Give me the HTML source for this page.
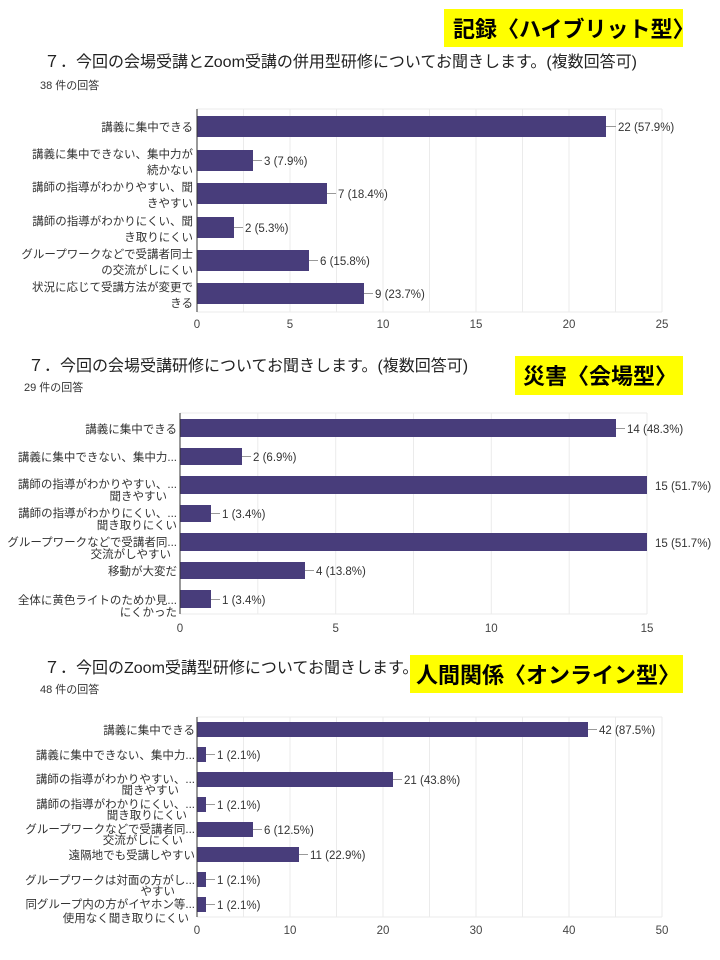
<!DOCTYPE html>
<html><head><meta charset="utf-8"><style>
html,body{margin:0;padding:0;background:#fff;}
svg{display:block;}
text{font-family:"Liberation Sans","Noto Sans CJK JP",sans-serif;}
.t{font-size:16px;fill:#222;}
.s{font-size:11px;fill:#333;}
.l{font-size:11.5px;fill:#333;text-anchor:end;}
.v{font-size:11.5px;fill:#333;}
.a{font-size:11.5px;fill:#444;text-anchor:middle;}
.y{font-size:22px;font-weight:bold;fill:#000;}
.b{fill:#483d7b;}
.g{stroke:#ebebeb;stroke-width:1;}
.k{stroke:#999;stroke-width:1;}
</style></head><body>
<svg width="720" height="960" viewBox="0 0 720 960" xmlns="http://www.w3.org/2000/svg">
<!-- Chart 1 -->
<rect x="444" y="9" width="239" height="38" fill="#ffff00"/>
<text class="y" x="453" y="37">記録〈ハイブリット型〉</text>
<text class="t" x="44" y="67">７．今回の会場受講とZoom受講の併用型研修についてお聞きします。(複数回答可)</text>
<text class="s" x="40" y="89">38 件の回答</text>
<g>
<line class="g" x1="243.5" y1="109" x2="243.5" y2="312"/><line class="g" x1="290" y1="109" x2="290" y2="312"/><line class="g" x1="336.5" y1="109" x2="336.5" y2="312"/><line class="g" x1="383" y1="109" x2="383" y2="312"/><line class="g" x1="429.5" y1="109" x2="429.5" y2="312"/><line class="g" x1="476" y1="109" x2="476" y2="312"/><line class="g" x1="522.5" y1="109" x2="522.5" y2="312"/><line class="g" x1="569" y1="109" x2="569" y2="312"/><line class="g" x1="615.5" y1="109" x2="615.5" y2="312"/><line class="g" x1="662" y1="109" x2="662" y2="312"/>
<line class="g" x1="197" y1="109" x2="662" y2="109"/><line class="g" x1="197" y1="312" x2="662" y2="312"/>
<rect class="b" x="197" y="116" width="409" height="21"/>
<rect class="b" x="197" y="150" width="56" height="21"/>
<rect class="b" x="197" y="183" width="130" height="21"/>
<rect class="b" x="197" y="217" width="37" height="21"/>
<rect class="b" x="197" y="250" width="112" height="21"/>
<rect class="b" x="197" y="283" width="167" height="21"/>
<line x1="197" y1="109" x2="197" y2="312" stroke="#333"/>
<line class="k" x1="606" y1="126.5" x2="616" y2="126.5"/><text class="v" x="618" y="131">22 (57.9%)</text>
<line class="k" x1="253" y1="160.5" x2="262" y2="160.5"/><text class="v" x="264" y="165">3 (7.9%)</text>
<line class="k" x1="327" y1="193.5" x2="336" y2="193.5"/><text class="v" x="338" y="198">7 (18.4%)</text>
<line class="k" x1="234" y1="227.5" x2="243" y2="227.5"/><text class="v" x="245" y="232">2 (5.3%)</text>
<line class="k" x1="309" y1="260.5" x2="318" y2="260.5"/><text class="v" x="320" y="265">6 (15.8%)</text>
<line class="k" x1="364" y1="293.5" x2="373" y2="293.5"/><text class="v" x="375" y="298">9 (23.7%)</text>
<text class="l" x="193" y="131">講義に集中できる</text>
<text class="l" x="193" y="158">講義に集中できない、集中力が</text><text class="l" x="193" y="174">続かない</text>
<text class="l" x="193" y="191">講師の指導がわかりやすい、聞</text><text class="l" x="193" y="207">きやすい</text>
<text class="l" x="193" y="225">講師の指導がわかりにくい、聞</text><text class="l" x="193" y="241">き取りにくい</text>
<text class="l" x="193" y="258">グループワークなどで受講者同士</text><text class="l" x="193" y="274">の交流がしにくい</text>
<text class="l" x="193" y="291">状況に応じて受講方法が変更で</text><text class="l" x="193" y="307">きる</text>
<text class="a" x="197" y="328">0</text><text class="a" x="290" y="328">5</text><text class="a" x="383" y="328">10</text><text class="a" x="476" y="328">15</text><text class="a" x="569" y="328">20</text><text class="a" x="662" y="328">25</text>
</g>
<!-- Chart 2 -->
<rect x="515" y="356" width="168" height="39" fill="#ffff00"/>
<text class="y" x="523" y="384">災害〈会場型〉</text>
<text class="t" x="28" y="371">７．今回の会場受講研修についてお聞きします。(複数回答可)</text>
<text class="s" x="24" y="391">29 件の回答</text>
<g>
<line class="g" x1="257.8" y1="413" x2="257.8" y2="614"/><line class="g" x1="335.7" y1="413" x2="335.7" y2="614"/><line class="g" x1="413.5" y1="413" x2="413.5" y2="614"/><line class="g" x1="491.3" y1="413" x2="491.3" y2="614"/><line class="g" x1="569.2" y1="413" x2="569.2" y2="614"/><line class="g" x1="647" y1="413" x2="647" y2="614"/>
<line class="g" x1="180" y1="413" x2="647" y2="413"/><line class="g" x1="180" y1="614" x2="647" y2="614"/>
<rect class="b" x="180" y="419" width="436" height="18"/>
<rect class="b" x="180" y="448" width="62" height="17"/>
<rect class="b" x="180" y="476" width="467" height="18"/>
<rect class="b" x="180" y="505" width="31" height="17"/>
<rect class="b" x="180" y="533" width="467" height="18"/>
<rect class="b" x="180" y="562" width="125" height="17"/>
<rect class="b" x="180" y="590" width="31" height="18"/>
<line x1="180" y1="413" x2="180" y2="614" stroke="#333"/>
<line class="k" x1="616" y1="428.5" x2="625" y2="428.5"/><text class="v" x="627" y="433">14 (48.3%)</text>
<line class="k" x1="242" y1="456.5" x2="251" y2="456.5"/><text class="v" x="253" y="461">2 (6.9%)</text>
<text class="v" x="655" y="490">15 (51.7%)</text>
<line class="k" x1="211" y1="513.5" x2="220" y2="513.5"/><text class="v" x="222" y="518">1 (3.4%)</text>
<text class="v" x="655" y="547">15 (51.7%)</text>
<line class="k" x1="305" y1="570.5" x2="314" y2="570.5"/><text class="v" x="316" y="575">4 (13.8%)</text>
<line class="k" x1="211" y1="599.5" x2="220" y2="599.5"/><text class="v" x="222" y="604">1 (3.4%)</text>
<text class="l" x="177" y="433">講義に集中できる</text>
<text class="l" x="177" y="461">講義に集中できない、集中力...</text>
<text class="l" x="177" y="488">講師の指導がわかりやすい、...</text><text class="l" x="167" y="500">聞きやすい</text>
<text class="l" x="177" y="517">講師の指導がわかりにくい、...</text><text class="l" x="177" y="529">聞き取りにくい</text>
<text class="l" x="177" y="546">グループワークなどで受講者同...</text><text class="l" x="171" y="558">交流がしやすい</text>
<text class="l" x="177" y="575">移動が大変だ</text>
<text class="l" x="177" y="604">全体に黄色ライトのためか見...</text><text class="l" x="177" y="616">にくかった</text>
<text class="a" x="180" y="632">0</text><text class="a" x="335.7" y="632">5</text><text class="a" x="491.3" y="632">10</text><text class="a" x="647" y="632">15</text>
</g>
<!-- Chart 3 -->
<rect x="410" y="655" width="273" height="38" fill="#ffff00"/>
<text class="y" x="416" y="683">人間関係〈オンライン型〉</text>
<text class="t" x="44" y="673">７．今回のZoom受講型研修についてお聞きします。</text>
<text class="s" x="40" y="693">48 件の回答</text>
<g>
<line class="g" x1="243.5" y1="717" x2="243.5" y2="917"/><line class="g" x1="290" y1="717" x2="290" y2="917"/><line class="g" x1="336.5" y1="717" x2="336.5" y2="917"/><line class="g" x1="383" y1="717" x2="383" y2="917"/><line class="g" x1="429.5" y1="717" x2="429.5" y2="917"/><line class="g" x1="476" y1="717" x2="476" y2="917"/><line class="g" x1="522.5" y1="717" x2="522.5" y2="917"/><line class="g" x1="569" y1="717" x2="569" y2="917"/><line class="g" x1="615.5" y1="717" x2="615.5" y2="917"/><line class="g" x1="662" y1="717" x2="662" y2="917"/>
<line class="g" x1="197" y1="717" x2="662" y2="717"/><line class="g" x1="197" y1="917" x2="662" y2="917"/>
<rect class="b" x="197" y="722" width="391" height="15"/>
<rect class="b" x="197" y="747" width="9" height="15"/>
<rect class="b" x="197" y="772" width="196" height="15"/>
<rect class="b" x="197" y="797" width="9" height="15"/>
<rect class="b" x="197" y="822" width="56" height="15"/>
<rect class="b" x="197" y="847" width="102" height="15"/>
<rect class="b" x="197" y="872" width="9" height="15"/>
<rect class="b" x="197" y="897" width="9" height="15"/>
<line x1="197" y1="717" x2="197" y2="917" stroke="#333"/>
<line class="k" x1="588" y1="729.5" x2="597" y2="729.5"/><text class="v" x="599" y="734">42 (87.5%)</text>
<line class="k" x1="206" y1="754.5" x2="215" y2="754.5"/><text class="v" x="217" y="759">1 (2.1%)</text>
<line class="k" x1="393" y1="779.5" x2="402" y2="779.5"/><text class="v" x="404" y="784">21 (43.8%)</text>
<line class="k" x1="206" y1="804.5" x2="215" y2="804.5"/><text class="v" x="217" y="809">1 (2.1%)</text>
<line class="k" x1="253" y1="829.5" x2="262" y2="829.5"/><text class="v" x="264" y="834">6 (12.5%)</text>
<line class="k" x1="299" y1="854.5" x2="308" y2="854.5"/><text class="v" x="310" y="859">11 (22.9%)</text>
<line class="k" x1="206" y1="879.5" x2="215" y2="879.5"/><text class="v" x="217" y="884">1 (2.1%)</text>
<line class="k" x1="206" y1="904.5" x2="215" y2="904.5"/><text class="v" x="217" y="909">1 (2.1%)</text>
<text class="l" x="195" y="734">講義に集中できる</text>
<text class="l" x="195" y="759">講義に集中できない、集中力...</text>
<text class="l" x="195" y="783">講師の指導がわかりやすい、...</text><text class="l" x="179" y="794">聞きやすい</text>
<text class="l" x="195" y="808">講師の指導がわかりにくい、...</text><text class="l" x="187" y="819">聞き取りにくい</text>
<text class="l" x="195" y="833">グループワークなどで受講者同...</text><text class="l" x="183" y="844">交流がしにくい</text>
<text class="l" x="195" y="859">遠隔地でも受講しやすい</text>
<text class="l" x="195" y="884">グループワークは対面の方がし...</text><text class="l" x="175" y="895">やすい</text>
<text class="l" x="195" y="908">同グループ内の方がイヤホン等...</text><text class="l" x="189" y="922">使用なく聞き取りにくい</text>
<text class="a" x="197" y="934">0</text><text class="a" x="290" y="934">10</text><text class="a" x="383" y="934">20</text><text class="a" x="476" y="934">30</text><text class="a" x="569" y="934">40</text><text class="a" x="662" y="934">50</text>
</g>
</svg>
</body></html>
